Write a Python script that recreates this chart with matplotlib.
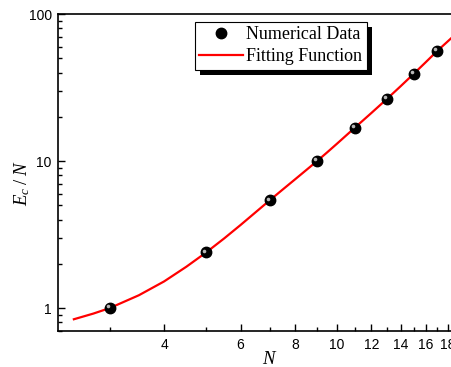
import numpy as np
import matplotlib
matplotlib.use("Agg")
import matplotlib.pyplot as plt
from matplotlib.patches import Rectangle
from matplotlib.ticker import FixedLocator, NullFormatter, LogLocator

# numerical data
n_data = [3, 5, 7, 9, 11, 13, 15, 17]
e_data = [1.0, 2.39, 5.40, 10.0, 16.9, 26.3, 39.1, 56.0]

# points
n_fit = [2.48, 2.75, 3.0, 3.5, 4.0, 4.5, 5.0, 5.5, 6.0, 6.5, 7.0, 7.5, 8.0, 8.5, 9.0,
         9.5, 10.0, 11.0, 12.0, 13.0, 14.0, 15.0, 16.0, 17.0, 18.0, 19.6]
e_fit = [0.839, 0.917, 1.0, 1.222, 1.517, 1.909, 2.39, 2.976, 3.674, 4.488, 5.403,
         6.40, 7.49, 8.69, 10.0, 11.48, 13.12, 16.89, 21.23, 26.29, 32.21, 39.08,
         46.97, 55.99, 65.3, 82.2]

x_ticks = [4, 6, 8, 10, 12, 14, 16, 18]
x_minor = [3, 5, 7, 9, 11, 13, 15, 17, 19]

plt.rcParams['font.family'] = 'Liberation Sans'
plt.rcParams['mathtext.fontset'] = 'custom'
plt.rcParams['mathtext.it'] = 'Liberation Serif:italic'
plt.rcParams['mathtext.rm'] = 'Liberation Serif'

fig = plt.figure(figsize=(4.51, 3.67), dpi=100)
ax = fig.add_axes([58 / 451, 36 / 367, 406 / 451, 317 / 367])

ax.plot(n_fit, e_fit, color='red', lw=1.6, zorder=2, label='Fitting Function')
ax.plot(n_data, e_data, 'o', color='black', ms=7.5, zorder=3, label='Numerical Data')
# little highlight on the spheres
hl = matplotlib.transforms.ScaledTranslation(-1.3 / 72, 1.3 / 72, fig.dpi_scale_trans)
ax.plot(n_data, e_data, 'o', color='#b8b8b8', mec='none', ms=2.6, zorder=4,
        transform=ax.transData + hl)

ax.set_xscale('log')
ax.set_yscale('log')
ax.set_xlim(2.28, 19.6)
ax.set_ylim(0.698, 100)

ax.xaxis.set_major_locator(FixedLocator(x_ticks))
ax.xaxis.set_minor_locator(FixedLocator(x_minor))
ax.xaxis.set_major_formatter(matplotlib.ticker.FixedFormatter([str(t) for t in x_ticks]))
ax.xaxis.set_minor_formatter(NullFormatter())
ax.yaxis.set_major_locator(LogLocator(base=10))
ax.yaxis.set_minor_locator(LogLocator(base=10, subs=np.arange(2, 10)))
ax.yaxis.set_minor_formatter(NullFormatter())
ax.yaxis.set_major_formatter(matplotlib.ticker.FuncFormatter(lambda v, p: '%g' % v))

ax.tick_params(which='both', direction='in', top=False, right=False, labelsize=10, width=1)
ax.tick_params(which='major', length=5)
ax.tick_params(axis='x', which='major', pad=5)
ax.tick_params(axis='y', which='major', pad=4.5)
ax.tick_params(which='minor', length=3)
for s in ax.spines.values():
    s.set_linewidth(1.2)

ax.set_xlabel(r'$N$', fontsize=13.5)
ax.set_ylabel(r'$E_c\;/\;N$', fontsize=13.5)
ax.xaxis.set_label_coords(0.522, -0.063)
ax.yaxis.set_label_coords(-0.065, 0.467)

h, l = ax.get_legend_handles_labels()
leg = ax.legend(h[::-1], l[::-1], loc='upper left', bbox_to_anchor=(0.337, 0.975),
                borderaxespad=0, frameon=True, fancybox=False, edgecolor='black',
                facecolor='white', framealpha=1,
                prop={'family': 'Liberation Serif', 'size': 13}, handlelength=2.4,
                handletextpad=0.2, borderpad=0.25, labelspacing=0.28)
leg.get_frame().set_linewidth(0.8)
leg.set_zorder(10)

fig.canvas.draw()
bb = leg.get_window_extent()
shadow = Rectangle((bb.x0 + 5, bb.y0 - 5), bb.width, bb.height, transform=None,
                   facecolor='black', edgecolor='none', zorder=9)
ax.add_artist(shadow)

fig.savefig('out.png', dpi=100)
